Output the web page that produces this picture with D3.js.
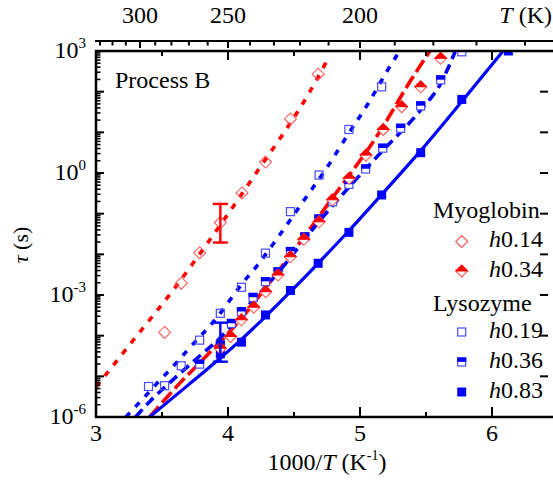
<!DOCTYPE html>
<html>
<head>
<meta charset="utf-8">
<script src="https://cdn.jsdelivr.net/npm/d3@7"></script>
<style>
  body { margin: 0; background: #fff; }
</style>
</head>
<body>
<svg id="chart" width="553" height="493"></svg>
<script>
// ---- data: x = 1000/T (K^-1), values = log10(tau / s) ----
const myo014X      = [3.520, 3.646, 3.785, 3.942, 4.106, 4.284, 4.473, 4.683];
const myo014LogTau = [-3.92, -2.71, -1.96, -1.22, -0.49, 0.27, 1.33, 2.43];
const myo014FitX   = [3.0, 3.305, 3.596, 3.861, 4.203, 4.62, 4.76];
const myo014FitY   = [-5.26, -4.02, -2.83, -1.65, -0.05, 2.0, 2.82];

const myo034X      = [3.942, 4.020, 4.102, 4.195, 4.286, 4.379, 4.473, 4.574, 4.690, 4.792, 4.918, 5.045, 5.176, 5.316, 5.460, 5.611];
const myo034LogTau = [-4.31, -4.02, -3.61, -3.30, -2.92, -2.51, -2.06, -1.63, -1.20, -0.66, -0.13, 0.44, 1.07, 1.63, 2.12, 2.82];
const myo034FitX   = [3.406, 3.646, 3.785, 4.102, 4.377, 4.792, 5.151, 5.379, 5.53];
const myo034FitY   = [-6.0, -5.13, -4.67, -3.57, -2.43, -0.61, 1.02, 2.25, 3.0];

const lys019X      = [3.398, 3.520, 3.646, 3.785, 3.942, 4.102, 4.284, 4.473, 4.690, 4.916, 5.164];
const lys019LogTau = [-5.25, -5.23, -4.74, -4.11, -3.45, -2.81, -1.97, -0.95, -0.05, 1.07, 2.12];
const lys019FitX   = [3.225, 3.353, 3.474, 3.588, 3.687, 3.912, 4.112, 4.215, 4.392, 4.567, 4.747, 4.898, 5.062, 5.202, 5.30];
const lys019FitY   = [-6.0, -5.56, -5.13, -4.74, -4.38, -3.57, -2.70, -2.30, -1.52, -0.71, 0.12, 0.89, 1.71, 2.49, 3.0];

const lys036X      = [3.785, 3.942, 4.026, 4.102, 4.190, 4.284, 4.379, 4.473, 4.582, 4.688, 4.792, 4.916, 5.043, 5.172, 5.308, 5.460, 5.611, 5.771];
const lys036LogTau = [-4.70, -4.23, -3.70, -3.41, -3.06, -2.67, -2.43, -1.93, -1.57, -1.13, -0.71, -0.28, 0.10, 0.61, 1.10, 1.65, 2.29, 2.98];
const lys036FitX   = [3.30, 3.419, 3.51, 3.785, 3.942, 4.102, 4.379, 4.688, 4.916, 5.172, 5.460, 5.611, 5.72];
const lys036FitY   = [-6.0, -5.58, -5.3, -4.5, -4.05, -3.45, -2.45, -1.2, -0.35, 0.55, 1.55, 2.2, 2.98];

const lys083X      = [3.942, 4.102, 4.284, 4.473, 4.683, 4.916, 5.164, 5.460, 5.771, 6.124];
const lys083LogTau = [-4.45, -4.16, -3.49, -2.89, -2.22, -1.46, -0.54, 0.50, 1.81, 3.0];
const lys083FitX   = [3.406, 3.70, 3.942, 4.102, 4.284, 4.473, 4.683, 4.916, 5.164, 5.460, 5.771, 6.084];
const lys083FitY   = [-6.0, -5.21, -4.55, -4.09, -3.53, -2.92, -2.22, -1.42, -0.53, 0.55, 1.76, 3.0];

// error bars (log10 tau): Myoglobin h0.14 and Lysozyme at 1000/T = 3.942
const errX      = [3.942, 3.942];
const errLogLo  = [-1.71, -4.64];
const errLogHi  = [-0.76, -3.68];
const errColor  = ["#ff0000", "#0000ff"];

// axis ticks
const xMajorTicks = [3, 4, 5, 6];
const xMinorTicks = [3.5, 4.5, 5.5];
const yLabelExps  = [3, 0, -3, -6];
const tempTicks   = [330, 320, 310, 300, 290, 280, 270, 260, 250, 240, 230, 220, 210, 200, 190, 180, 170, 160];
const tempLabels  = [300, 250, 200];

const FONT = "'Liberation Serif', 'Times New Roman', Times, 'DejaVu Serif', serif";

// ---- scales ----
const x = d3.scaleLinear().domain([3, 6.5]).range([96, 558]);
const y = d3.scaleLog().domain([1e-6, 1e3]).range([417, 51]);
const Y = v => y(Math.pow(10, v));

const svg = d3.select("#chart").attr("font-family", FONT);
const RED = "#ff0000", RED_LIGHT = "#ff5a5a", BLUE = "#0000ff", BLUE_LIGHT = "#4a4aff";

svg.append("defs").append("clipPath").attr("id", "plotClip")
  .append("rect").attr("x", 96).attr("y", 51).attr("width", 462).attr("height", 366);

const plot = svg.append("g").attr("clip-path", "url(#plotClip)");

// ---- fitted curves ----
const line = d3.line().x(d => x(d[0])).y(d => Y(d[1])).curve(d3.curveMonotoneX);
const fits = [
  { xs: myo014FitX, ys: myo014FitY, color: RED,  width: 3.6, dash: "6,8" },
  { xs: lys019FitX, ys: lys019FitY, color: BLUE, width: 3.6, dash: "6,8" },
  { xs: myo034FitX, ys: myo034FitY, color: RED,  width: 3.6, dash: "14,5" },
  { xs: lys036FitX, ys: lys036FitY, color: BLUE, width: 3.6, dash: "10,6" },
  { xs: lys083FitX, ys: lys083FitY, color: BLUE, width: 3.2, dash: null }
];
fits.forEach(f => {
  plot.append("path")
    .datum(f.xs.map((v, i) => [v, f.ys[i]]))
    .attr("d", line)
    .attr("fill", "none")
    .attr("stroke", f.color)
    .attr("stroke-width", f.width)
    .attr("stroke-dasharray", f.dash);
});

// ---- markers ----
function diamondPath(cx, cy, r) {
  return `M${cx},${cy - r}L${cx + r},${cy}L${cx},${cy + r}L${cx - r},${cy}Z`;
}
function drawOpenDiamond(g, cx, cy) {
  g.append("path").attr("d", diamondPath(cx, cy, 6))
    .attr("fill", "none").attr("stroke", RED_LIGHT).attr("stroke-width", 1.1);
}
function drawHalfDiamond(g, cx, cy) {
  g.append("path").attr("d", diamondPath(cx, cy, 6))
    .attr("fill", "#fff").attr("stroke", RED_LIGHT).attr("stroke-width", 1.1);
  g.append("path").attr("d", `M${cx - 6},${cy}L${cx},${cy - 6}L${cx + 6},${cy}Z`)
    .attr("fill", RED).attr("stroke", RED).attr("stroke-width", 1);
}
function drawOpenSquare(g, cx, cy) {
  g.append("rect").attr("x", cx - 4).attr("y", cy - 4).attr("width", 8).attr("height", 8)
    .attr("fill", "none").attr("stroke", BLUE_LIGHT).attr("stroke-width", 1.2);
}
function drawHalfSquare(g, cx, cy) {
  g.append("rect").attr("x", cx - 4).attr("y", cy - 4).attr("width", 8).attr("height", 8)
    .attr("fill", "#fff").attr("stroke", BLUE_LIGHT).attr("stroke-width", 1.2);
  g.append("rect").attr("x", cx - 4.6).attr("y", cy - 4.6).attr("width", 9.2).attr("height", 4.4)
    .attr("fill", BLUE);
}
function drawFilledSquare(g, cx, cy) {
  g.append("rect").attr("x", cx - 4.5).attr("y", cy - 4.5).attr("width", 9).attr("height", 9)
    .attr("fill", BLUE);
}

const series = [
  { xs: myo014X, ys: myo014LogTau, draw: drawOpenDiamond },
  { xs: lys019X, ys: lys019LogTau, draw: drawOpenSquare },
  { xs: lys036X, ys: lys036LogTau, draw: drawHalfSquare },
  { xs: lys083X, ys: lys083LogTau, draw: drawFilledSquare },
  { xs: myo034X, ys: myo034LogTau, draw: drawHalfDiamond }
];
series.forEach(s => {
  const g = plot.append("g");
  s.xs.forEach((v, i) => s.draw(g, x(v), Y(s.ys[i])));
});

// ---- error bars ----
errX.forEach((v, i) => {
  const g = plot.append("g").attr("stroke", errColor[i]).attr("stroke-width", 2.4);
  const cx = x(v), y1 = Y(errLogHi[i]), y2 = Y(errLogLo[i]);
  g.append("line").attr("x1", cx).attr("x2", cx).attr("y1", y1).attr("y2", y2);
  g.append("line").attr("x1", cx - 7.5).attr("x2", cx + 7.5).attr("y1", y1).attr("y2", y1);
  g.append("line").attr("x1", cx - 7.5).attr("x2", cx + 7.5).attr("y1", y2).attr("y2", y2);
});

// ---- frame and inward ticks ----
const axes = svg.append("g").attr("stroke", "#000").attr("fill", "none");
axes.append("rect").attr("x", 96).attr("y", 51).attr("width", 462).attr("height", 366)
  .attr("stroke-width", 2.5);

xMajorTicks.forEach(v => {
  axes.append("line").attr("x1", x(v)).attr("x2", x(v)).attr("y1", 417).attr("y2", 407).attr("stroke-width", 2);
  axes.append("line").attr("x1", x(v)).attr("x2", x(v)).attr("y1", 51).attr("y2", 60).attr("stroke-width", 2);
});
xMinorTicks.forEach(v => {
  axes.append("line").attr("x1", x(v)).attr("x2", x(v)).attr("y1", 417).attr("y2", 412).attr("stroke-width", 2);
  axes.append("line").attr("x1", x(v)).attr("x2", x(v)).attr("y1", 51).attr("y2", 56).attr("stroke-width", 2);
});
for (let e = -6; e <= 3; e++) {
  const yy = y(Math.pow(10, e));
  axes.append("line").attr("x1", 96).attr("x2", 104).attr("y1", yy).attr("y2", yy).attr("stroke-width", 2);
  axes.append("line").attr("x1", 540).attr("x2", 548).attr("y1", yy).attr("y2", yy).attr("stroke-width", 2);
  if (e < 3) {
    for (let m = 2; m <= 9; m++) {
      const ym = y(m * Math.pow(10, e));
      axes.append("line").attr("x1", 96).attr("x2", 100.5).attr("y1", ym).attr("y2", ym).attr("stroke-width", 1.6);
    }
  }
}

// ---- top temperature axis ----
axes.append("line").attr("x1", 95).attr("x2", 558).attr("y1", 41).attr("y2", 41).attr("stroke-width", 2);
tempTicks.forEach(T => {
  const xx = x(1000 / T);
  const major = tempLabels.includes(T);
  axes.append("line").attr("x1", xx).attr("x2", xx).attr("y1", 41).attr("y2", major ? 48 : 45.5)
    .attr("stroke-width", 2);
});

const txt = svg.append("g").attr("fill", "#000").attr("font-size", 24).attr("font-family", FONT);
tempLabels.forEach(T => {
  txt.append("text").attr("x", x(1000 / T)).attr("y", 23).attr("text-anchor", "middle").text(T);
});
const tLab = txt.append("text").attr("x", 552).attr("y", 23).attr("text-anchor", "end");
tLab.append("tspan").attr("font-style", "italic").text("T");
tLab.append("tspan").text(" (K)");

// bottom tick labels
xMajorTicks.forEach(v => {
  txt.append("text").attr("x", x(v)).attr("y", 441).attr("text-anchor", "middle").text(v);
});

// x title
const xt = txt.append("text").attr("x", 327).attr("y", 470).attr("text-anchor", "middle");
xt.append("tspan").text("1000/");
xt.append("tspan").attr("font-style", "italic").text("T");
xt.append("tspan").text(" (K");
xt.append("tspan").attr("font-size", 14).attr("dy", -10).text("-1");
xt.append("tspan").attr("dy", 10).text(")");

// y tick labels
yLabelExps.forEach(e => {
  const t = txt.append("text").attr("x", 86).attr("y", y(Math.pow(10, e)) + 7).attr("text-anchor", "end");
  t.append("tspan").text("10");
  t.append("tspan").attr("font-size", 15).attr("dy", -10).text(e);
});

// y title
const yt = txt.append("text").attr("transform", "translate(28,245) rotate(-90)").attr("text-anchor", "middle")
  .attr("font-size", 22);
yt.append("tspan").attr("font-style", "italic").text("τ");
yt.append("tspan").text(" (s)");

// panel label
txt.append("text").attr("x", 115).attr("y", 88).text("Process B");

// ---- legend ----
const leg = svg.append("g").attr("font-family", FONT);
const legText = (xx, yy, s, italicH) => {
  const t = leg.append("text").attr("x", xx).attr("y", yy).attr("font-size", 24);
  if (italicH) {
    t.append("tspan").attr("font-style", "italic").text("h");
    t.append("tspan").text(s);
  } else {
    t.text(s);
  }
};
legText(433, 218, "Myoglobin", false);
drawOpenDiamond(leg, 461.7, 241.5);  legText(489, 247, "0.14", true);
drawHalfDiamond(leg, 461.7, 271);    legText(489, 277, "0.34", true);
legText(433, 311, "Lysozyme", false);
drawOpenSquare(leg, 461.7, 332);     legText(489, 338, "0.19", true);
drawHalfSquare(leg, 461.7, 362);     legText(489, 368, "0.36", true);
drawFilledSquare(leg, 461.7, 392);   legText(489, 398, "0.83", true);
</script>
</body>
</html>
